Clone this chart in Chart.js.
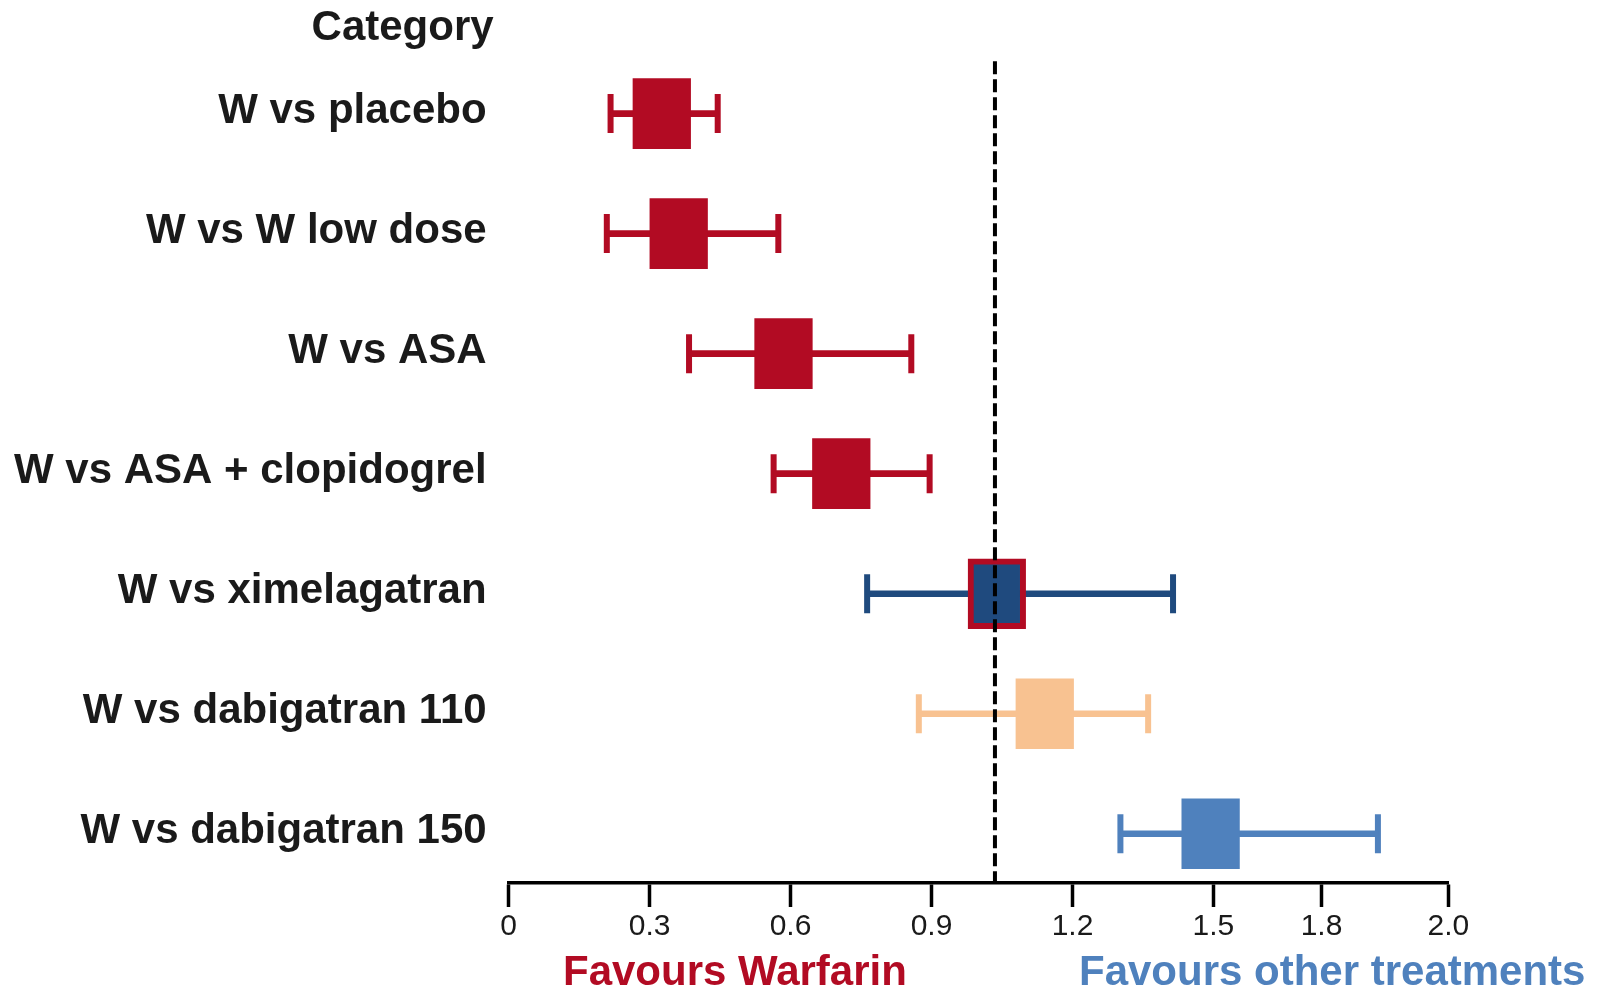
<!DOCTYPE html>
<html>
<head>
<meta charset="utf-8">
<title>Warfarin comparisons</title>
<script src="https://cdn.jsdelivr.net/npm/chart.js@4.4.0/dist/chart.umd.min.js"></script>
<style>
    html, body { margin: 0; padding: 0; background: #fff; overflow: hidden; }
    canvas { display: block; }
</style>
</head>
<body>
<canvas id="forest" width="1599" height="987"></canvas>
<script>
// rows, top to bottom
const categories = [
    'W vs placebo',
    'W vs W low dose',
    'W vs ASA',
    'W vs ASA + clopidogrel',
    'W vs ximelagatran',
    'W vs dabigatran 110',
    'W vs dabigatran 150'
];
const estimates = [0.326, 0.362, 0.585, 0.708, 1.039, 1.141, 1.494];
const lowerCI   = [0.217, 0.209, 0.384, 0.564, 0.763, 0.873, 1.302];
const upperCI   = [0.445, 0.574, 0.857, 0.896, 1.414, 1.361, 1.850];

const tickValues = [0, 0.3, 0.6, 0.9, 1.2, 1.5, 1.73, 2.0];
const tickLabels = ['0', '0.3', '0.6', '0.9', '1.2', '1.5', '1.8', '2.0'];
const referenceLine = 1.035;

const RED = '#b20b23';
const NAVY = '#1f4a7e';
const PEACH = '#f8c291';
const BLUE = '#4f81bd';
const rowColors = [RED, RED, RED, RED, NAVY, PEACH, BLUE];
const boxBorders = [RED, RED, RED, RED, RED, PEACH, BLUE];
const boxBorderWidths = [0, 0, 0, 0, 6, 0, 0];

const FONT = '"Liberation Sans", Arial, Helvetica, sans-serif';
const BOX_HALF = 0.0613; // half box width in axis units

// one point per row; the row index is the y value
const rowPoints = (values) => values.map((v, i) => ({ x: v, y: i }));
const boxes = rowPoints(estimates.map(v => [v - BOX_HALF, v + BOX_HALF]));
const whiskers = rowPoints(lowerCI.map((lo, i) => [lo, upperCI[i]]));

const capDataset = (values) => ({
    type: 'line',
    data: rowPoints(values),
    showLine: false,
    pointStyle: 'line',
    pointRotation: 90,
    pointRadius: 19.5,
    pointHoverRadius: 19.5,
    pointBorderWidth: 6,
    pointBorderColor: rowColors,
    pointBackgroundColor: rowColors
});

const annotations = {
    id: 'annotations',
    afterDatasetsDraw(chart) {
        const { ctx, chartArea, scales } = chart;
        const x = scales.x.getPixelForValue(referenceLine);
        ctx.save();
        ctx.strokeStyle = '#000';
        ctx.lineWidth = 4;
        ctx.setLineDash([13, 5]);
        ctx.beginPath();
        ctx.moveTo(x, chartArea.top + 14);
        ctx.lineTo(x, chartArea.bottom);
        ctx.stroke();
        ctx.restore();
    },
    afterDraw(chart) {
        const { ctx, scales } = chart;
        ctx.save();
        ctx.font = 'bold 42px ' + FONT;
        ctx.textBaseline = 'alphabetic';

        ctx.fillStyle = '#1a1a1a';
        ctx.textAlign = 'right';
        ctx.fillText('Category', scales.y.right - 15, 39.5);

        ctx.textAlign = 'left';
        ctx.fillStyle = RED;
        ctx.fillText('Favours Warfarin', 563, 985);
        ctx.fillStyle = BLUE;
        ctx.fillText('Favours other treatments', 1079, 985);
        ctx.restore();
    }
};

new Chart(document.getElementById('forest'), {
    type: 'bar',
    data: {
        datasets: [
            {
                data: boxes,
                backgroundColor: rowColors,
                borderColor: boxBorders,
                borderWidth: boxBorderWidths,
                borderSkipped: false,
                barThickness: 70,
                grouped: false
            },
            {
                data: whiskers,
                backgroundColor: rowColors,
                borderWidth: 0,
                barThickness: 6,
                grouped: false
            },
            capDataset(lowerCI),
            capDataset(upperCI)
        ]
    },
    options: {
        indexAxis: 'y',
        responsive: false,
        animation: false,
        devicePixelRatio: 1,
        events: [],
        layout: {
            padding: { left: 0, right: 150.6, top: 44, bottom: 0 }
        },
        plugins: {
            legend: { display: false },
            tooltip: { enabled: false }
        },
        scales: {
            x: {
                type: 'linear',
                min: 0,
                max: 2.0,
                afterBuildTicks: (scale) => {
                    scale.ticks = tickValues.map(v => ({ value: v }));
                },
                afterFit: (scale) => { scale.height = 104; },
                border: { display: true, color: '#000', width: 3.5 },
                grid: {
                    drawOnChartArea: false,
                    drawTicks: true,
                    tickLength: 24,
                    tickWidth: 3.5,
                    tickColor: '#000'
                },
                ticks: {
                    autoSkip: false,
                    maxRotation: 0,
                    padding: 2,
                    color: '#1a1a1a',
                    font: { family: FONT, size: 30 },
                    callback: (value, index) => tickLabels[index]
                }
            },
            y: {
                type: 'linear',
                reverse: true,
                offset: false,
                bounds: 'data',
                min: -0.553,
                max: 6.41,
                afterBuildTicks: (scale) => {
                    scale.ticks = categories.map((c, i) => ({ value: i }));
                },
                afterFit: (scale) => { scale.width = 508.6; },
                border: { display: false },
                grid: { display: false, drawTicks: false, offset: false },
                ticks: {
                    autoSkip: false,
                    padding: 22,
                    labelOffset: -2,
                    color: '#1a1a1a',
                    font: { family: FONT, size: 42, weight: 'bold' },
                    callback: (value, index) => categories[index]
                }
            }
        }
    },
    plugins: [annotations]
});
</script>
</body>
</html>
